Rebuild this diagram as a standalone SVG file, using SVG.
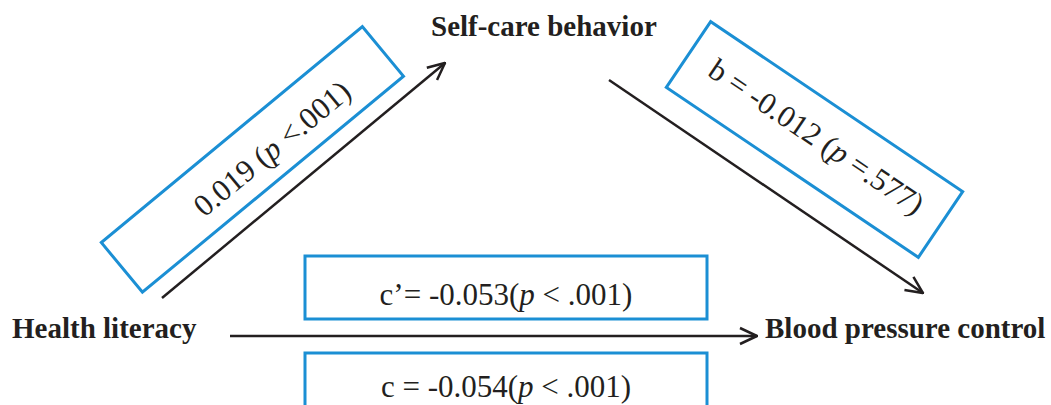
<svg xmlns="http://www.w3.org/2000/svg" width="1051" height="405" viewBox="0 0 1051 405">
<style>
.lbl{font-family:"Liberation Serif","Times New Roman",serif;font-weight:bold;font-size:29px;fill:#231f20}
.val{font-family:"Liberation Serif","Times New Roman",serif;font-size:31px;fill:#231f20}
.box{fill:#ffffff;stroke:#1b8fd4;stroke-width:3}
.conn{stroke:#231f20;stroke-width:2.5;fill:none}
</style>
<defs>
<marker id="arr" viewBox="0 0 20 20" refX="19" refY="10" markerWidth="20" markerHeight="20" markerUnits="userSpaceOnUse" orient="auto">
<path d="M2,2 L19,10 L2,18" fill="none" stroke="#231f20" stroke-width="2.5"/>
</marker>
</defs>
<rect width="1051" height="405" fill="#ffffff"/>
<g id="connectors">
<line class="conn" x1="162" y1="298" x2="445" y2="63" marker-end="url(#arr)"/>
<line class="conn" x1="609" y1="80" x2="923" y2="293" marker-end="url(#arr)"/>
<line class="conn" x1="230" y1="336" x2="757" y2="336" marker-end="url(#arr)"/>
</g>
<g id="node-self-care"><text class="lbl" x="431" y="36">Self-care behavior</text></g>
<g id="node-health-literacy"><text class="lbl" x="12" y="338">Health literacy</text></g>
<g id="node-bp-control"><text class="lbl" x="765" y="338">Blood pressure control</text></g>
<g id="label-a" transform="translate(252.4,159.4) rotate(-39.6)">
<rect class="box" x="-169.4" y="-32.25" width="338.8" height="64.5"/>
<text class="val" x="22" y="14.5" text-anchor="middle">0.019 (<tspan font-style="italic">p</tspan> &lt;.001)</text>
</g>
<g id="label-b" transform="translate(814.5,139.5) rotate(34)">
<rect class="box" x="-152" y="-39.65" width="304" height="79.3"/>
<text class="val" x="0" y="7" text-anchor="middle">b = -0.012 (<tspan font-style="italic">p</tspan> =.577)</text>
</g>
<g id="label-cprime">
<rect class="box" x="305" y="256" width="402" height="63"/>
<text class="val" x="506" y="305" text-anchor="middle">c’= -0.053(<tspan font-style="italic">p</tspan> &lt; .001)</text>
</g>
<g id="label-c">
<rect class="box" x="305" y="353" width="402" height="62"/>
<text class="val" x="506" y="397" text-anchor="middle">c = -0.054(<tspan font-style="italic">p</tspan> &lt; .001)</text>
</g>
</svg>
